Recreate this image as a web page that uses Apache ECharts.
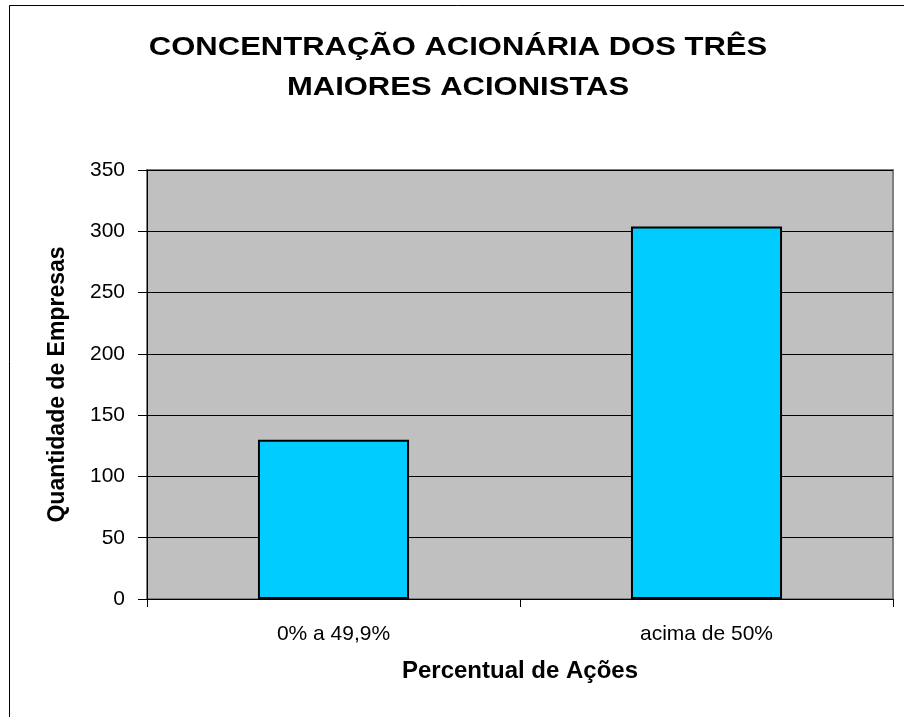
<!DOCTYPE html>
<html>
<head>
<meta charset="utf-8">
<script src="https://cdn.jsdelivr.net/npm/echarts@6/dist/echarts.min.js"></script>
<style>
    body { margin: 0; background: #fff; }
    #grafico { width: 904px; height: 717px; }
</style>
</head>
<body>
<div id="grafico"></div>
<script>
// dados do gráfico
const categorias = ['0% a 49,9%', 'acima de 50%'];
const quantidades = [130, 304];
const titulo = 'CONCENTRAÇÃO ACIONÁRIA DOS TRÊS\nMAIORES ACIONISTAS';
const nomeEixoX = 'Percentual de Ações';
const nomeEixoY = 'Quantidade de Empresas';

let chart = echarts.init(document.getElementById('grafico'));

let option = {
    backgroundColor: '#fff',
    animation: false,
    textStyle: { fontFamily: 'Liberation Sans, Arial, sans-serif' },
    graphic: [
        {
            // moldura do gráfico
            type: 'rect',
            shape: { x: 9.5, y: 5.5, width: 1000, height: 1000 },
            style: { fill: 'none', stroke: '#000', lineWidth: 1 },
            silent: true
        },
        {
            // título (texto um pouco esticado, como no original)
            type: 'text',
            x: 458,
            y: 68,
            scaleX: 1.24,
            style: {
                text: titulo,
                x: 0,
                y: 0,
                align: 'center',
                verticalAlign: 'middle',
                font: 'bold 25px "Liberation Sans", Arial, sans-serif',
                lineHeight: 40,
                fill: '#000'
            },
            silent: true
        }
    ],
    grid: {
        left: 147,
        right: 11,
        top: 170,
        bottom: 118,
        show: true,
        backgroundColor: '#C0C0C0',
        borderColor: '#808080',
        borderWidth: 2
    },
    xAxis: {
        type: 'category',
        data: categorias,
        name: nomeEixoX,
        nameLocation: 'middle',
        nameGap: 60,
        nameTextStyle: { fontSize: 24, fontWeight: 'bold', color: '#000' },
        axisLine: { lineStyle: { color: '#000', width: 1 } },
        axisTick: { show: true, length: 8, lineStyle: { color: '#000' } },
        axisLabel: { fontSize: 21, color: '#000', margin: 25 }
    },
    yAxis: {
        type: 'value',
        min: 0,
        max: 350,
        interval: 50,
        name: nomeEixoY,
        nameLocation: 'middle',
        nameGap: 78,
        nameTextStyle: { fontSize: 23, fontWeight: 'bold', color: '#000' },
        axisLine: { show: true, lineStyle: { color: '#000', width: 1 } },
        axisTick: { show: true, length: 9, lineStyle: { color: '#000' } },
        axisLabel: { fontSize: 21, color: '#000', margin: 22 },
        splitLine: { lineStyle: { color: '#000', width: 1 } }
    },
    series: [{
        type: 'bar',
        data: quantidades,
        barWidth: '40.5%',
        itemStyle: {
            color: '#00CCFF',
            borderColor: '#000',
            borderWidth: 2
        }
    }]
};

chart.setOption(option);
</script>
</body>
</html>
